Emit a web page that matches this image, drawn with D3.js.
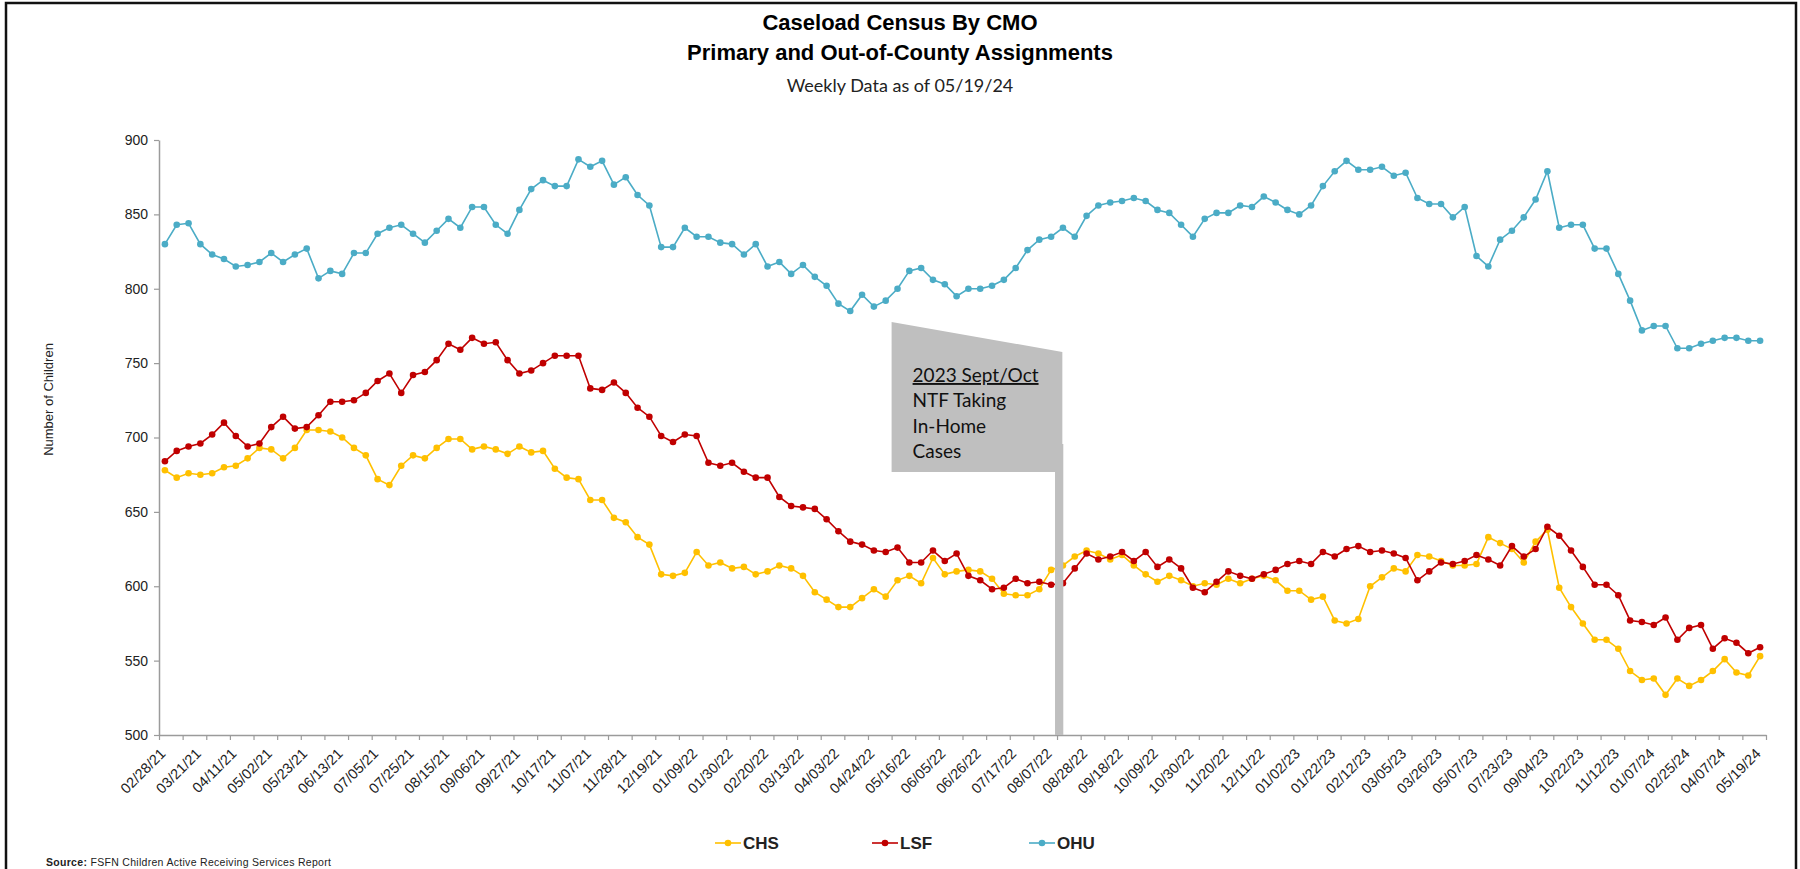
<!DOCTYPE html>
<html>
<head>
    <meta charset="utf-8">
    <script src="https://d3js.org/d3.v7.min.js"></script>
    <style>
        body { margin: 0; background: #fff; }
        svg { display: block; }
    </style>
</head>
<body>
    <svg id="chart" width="1800" height="869"></svg>

    <script>
        // x axis labels, one for every 3rd data point
        const tickLabels = [
            "02/28/21", "03/21/21", "04/11/21", "05/02/21", "05/23/21", "06/13/21", "07/05/21", "07/25/21",
            "08/15/21", "09/06/21", "09/27/21", "10/17/21", "11/07/21", "11/28/21", "12/19/21", "01/09/22",
            "01/30/22", "02/20/22", "03/13/22", "04/03/22", "04/24/22", "05/16/22", "06/05/22", "06/26/22",
            "07/17/22", "08/07/22", "08/28/22", "09/18/22", "10/09/22", "10/30/22", "11/20/22", "12/11/22",
            "01/02/23", "01/22/23", "02/12/23", "03/05/23", "03/26/23", "05/07/23", "07/23/23", "09/04/23",
            "10/22/23", "11/12/23", "01/07/24", "02/25/24", "04/07/24", "05/19/24"
        ];

        // weekly counts per CMO
        const chs = [
            678, 673, 676, 675, 676, 680, 681, 686, 693, 692, 686, 693, 705, 705, 704, 700, 693, 688,
            672, 668, 681, 688, 686, 693, 699, 699, 692, 694, 692, 689, 694, 690, 691, 679, 673, 672,
            658, 658, 646, 643, 633, 628, 608, 607, 609, 623, 614, 616, 612, 613, 608, 610, 614, 612,
            607, 596, 591, 586, 586, 592, 598, 593, 604, 607, 602, 619, 608, 610, 611, 610, 605, 595,
            594, 594, 598, 611, 614, 620, 624, 622, 618, 621, 614, 608, 603, 607, 604, 600, 602, 601,
            605, 602, 605, 607, 604, 597, 597, 591, 593, 577, 575, 578, 600, 606, 612, 610, 621, 620,
            617, 614, 614, 615, 633, 629, 625, 616, 630, 638, 599, 586, 575, 564, 564, 558, 543, 537,
            538, 527, 538, 533, 537, 543, 551, 542, 540, 553
        ];
        const lsf = [
            684, 691, 694, 696, 702, 710, 701, 694, 696, 707, 714, 706, 707, 715, 724, 724, 725, 730,
            738, 743, 730, 742, 744, 752, 763, 759, 767, 763, 764, 752, 743, 745, 750, 755, 755, 755,
            733, 732, 737, 730, 720, 714, 701, 697, 702, 701, 683, 681, 683, 677, 673, 673, 660, 654,
            653, 652, 645, 637, 630, 628, 624, 623, 626, 616, 616, 624, 617, 622, 607, 604, 598, 599,
            605, 602, 603, 601, 602, 612, 622, 618, 620, 623, 617, 623, 613, 618, 612, 599, 596, 603,
            610, 607, 605, 608, 611, 615, 617, 615, 623, 620, 625, 627, 623, 624, 622, 619, 604, 610,
            616, 615, 617, 621, 618, 614, 627, 620, 625, 640, 634, 624, 613, 601, 601, 594, 577, 576,
            574, 579, 564, 572, 574, 558, 565, 562, 555, 559
        ];
        const ohu = [
            830, 843, 844, 830, 823, 820, 815, 816, 818, 824, 818, 823, 827, 807, 812, 810, 824, 824,
            837, 841, 843, 837, 831, 839, 847, 841, 855, 855, 843, 837, 853, 867, 873, 869, 869, 887,
            882, 886, 870, 875, 863, 856, 828, 828, 841, 835, 835, 831, 830, 823, 830, 815, 818, 810,
            816, 808, 802, 790, 785, 796, 788, 792, 800, 812, 814, 806, 803, 795, 800, 800, 802, 806,
            814, 826, 833, 835, 841, 835, 849, 856, 858, 859, 861, 859, 853, 851, 843, 835, 847, 851,
            851, 856, 855, 862, 858, 853, 850, 856, 869, 879, 886, 880, 880, 882, 876, 878, 861, 857,
            857, 848, 855, 822, 815, 833, 839, 848, 860, 879, 841, 843, 843, 827, 827, 810, 792, 772,
            775, 775, 760, 760, 763, 765, 767, 767, 765, 765
        ];

        const seriesNames = ["CHS", "LSF", "OHU"];
        const seriesColors = ["#FFC000", "#C00000", "#4BACC6"];
        const seriesValues = [chs, lsf, ohu];

        const yTicks = [500, 550, 600, 650, 700, 750, 800, 850, 900];

        // The svg
        const svg = d3.select("svg"),
            width = +svg.attr("width"),
            height = +svg.attr("height");

        const plot = {left: 159, right: 1766, top: 140, bottom: 735};
        const axisColor = "#9b9b9b";
        const arial = "'Liberation Sans', Arial, sans-serif";
        const calibri = "Lato, 'Open Sans', sans-serif";

        const n = ohu.length;

        // scales: band for the points, linear for the band edges (tick marks)
        const x = d3.scaleBand()
            .domain(d3.range(n))
            .range([plot.left, plot.right])
            .padding(0);
        const xEdge = d3.scaleLinear()
            .domain([0, n])
            .range([plot.left, plot.right]);
        const y = d3.scaleLinear()
            .domain([500, 900])
            .range([plot.bottom, plot.top]);
        const cx = i => x(i) + x.bandwidth() / 2;

        // outer frame
        svg.append("rect")
            .attr("x", 6).attr("y", 3)
            .attr("width", width - 10).attr("height", height + 40)
            .attr("fill", "none")
            .attr("stroke", "#111")
            .attr("stroke-width", 2.5);

        // titles
        const titles = svg.append("g").attr("text-anchor", "middle");
        titles.append("text")
            .attr("x", 900).attr("y", 30)
            .attr("font-family", arial).attr("font-weight", "bold").attr("font-size", 22)
            .text("Caseload Census By CMO");
        titles.append("text")
            .attr("x", 900).attr("y", 60)
            .attr("font-family", arial).attr("font-weight", "bold").attr("font-size", 22)
            .text("Primary and Out-of-County Assignments");
        titles.append("text")
            .attr("x", 900).attr("y", 92)
            .attr("font-family", calibri).attr("font-size", 18)
            .attr("fill", "#222")
            .text("Weekly Data as of 05/19/24");

        // y axis
        const yAxis = svg.append("g")
            .attr("transform", `translate(${plot.left},0)`)
            .call(d3.axisLeft(y).tickValues(yTicks).tickSize(5).tickSizeOuter(0).tickPadding(6));
        yAxis.select(".domain").attr("stroke", axisColor).attr("stroke-width", 1.5);
        yAxis.selectAll(".tick line").attr("stroke", axisColor).attr("stroke-width", 1.2);
        yAxis.selectAll(".tick text")
            .attr("font-family", arial).attr("font-size", 14).attr("fill", "#222");

        svg.append("text")
            .attr("transform", `translate(53,${(plot.top + plot.bottom) / 2 - 38}) rotate(-90)`)
            .attr("text-anchor", "middle")
            .attr("font-family", "'Liberation Sans Narrow', " + arial)
            .attr("font-size", 13)
            .attr("fill", "#222")
            .text("Number of Children");

        // x axis line and tick marks every 2 weeks
        const xAxis = svg.append("g")
            .attr("transform", `translate(0,${plot.bottom})`)
            .call(d3.axisBottom(xEdge).tickValues(d3.range(0, n + 1, 2)).tickSize(5).tickSizeOuter(0).tickFormat(""));
        xAxis.select(".domain").attr("stroke", axisColor).attr("stroke-width", 1.5);
        xAxis.selectAll(".tick line").attr("stroke", axisColor).attr("stroke-width", 1.2);

        // x labels every 3 weeks, rotated
        const xLabels = svg.append("g")
            .attr("transform", `translate(0,${plot.bottom})`)
            .call(d3.axisBottom(x).tickValues(d3.range(0, n, 3)).tickSize(0).tickFormat(i => tickLabels[i / 3]));
        xLabels.select(".domain").remove();
        xLabels.selectAll(".tick text")
            .attr("font-family", arial).attr("font-size", 14.5).attr("fill", "#222")
            .attr("text-anchor", "end")
            .attr("transform", "translate(-2,16) rotate(-45)")
            .attr("dy", "0.35em")
            .attr("y", 0);

        // series lines and markers
        const line = d3.line()
            .x((d, i) => cx(i))
            .y(d => y(d));

        seriesValues.forEach((values, s) => {
            const g = svg.append("g");
            g.append("path")
                .datum(values)
                .attr("fill", "none")
                .attr("stroke", seriesColors[s])
                .attr("stroke-width", 1.6)
                .attr("d", line);
            g.selectAll("circle")
                .data(values)
                .join("circle")
                .attr("cx", (d, i) => cx(i))
                .attr("cy", d => y(d))
                .attr("r", 3.3)
                .attr("fill", seriesColors[s]);
        });

        // annotation callout (grey box with a pointer bar down to the axis)
        const box = {left: xEdge(62), right: xEdge(76.45), topL: 322, topR: 352, bottom: 472,
            barL: xEdge(75.83), barR: xEdge(76.53)};
        svg.append("path")
            .attr("fill", "#bfbfbf")
            .attr("d", `M${box.left},${box.topL} L${box.right},${box.topR} L${box.right},444 L${box.barR},444
                L${box.barR},${y(500)} L${box.barL},${y(500)} L${box.barL},${box.bottom} L${box.left},${box.bottom} Z`);

        const note = svg.append("text")
            .attr("font-family", calibri).attr("font-size", 19).attr("fill", "#111");
        ["2023 Sept/Oct", "NTF Taking", "In-Home", "Cases"].forEach((t, k) => {
            note.append("tspan")
                .attr("x", box.left + 21)
                .attr("y", 382 + k * 25.3)
                .attr("text-decoration", k === 0 ? "underline" : null)
                .text(t);
        });

        // legend
        const legend = svg.append("g")
            .selectAll("g")
            .data(seriesNames)
            .join("g")
            .attr("transform", (d, i) => `translate(${728 + i * 157},843)`);
        legend.append("line")
            .attr("x1", -13).attr("x2", 13)
            .attr("stroke", (d, i) => seriesColors[i])
            .attr("stroke-width", 1.6);
        legend.append("circle")
            .attr("r", 3.3)
            .attr("fill", (d, i) => seriesColors[i]);
        legend.append("text")
            .attr("x", 15).attr("y", 6)
            .attr("font-family", arial).attr("font-weight", "bold").attr("font-size", 17)
            .attr("fill", "#222")
            .text(d => d);

        // source note
        const source = svg.append("text")
            .attr("x", 46).attr("y", 866)
            .attr("font-family", arial).attr("font-size", 10.5)
            .attr("letter-spacing", 0.3)
            .attr("fill", "#222");
        source.append("tspan").attr("font-weight", "bold").text("Source:");
        source.append("tspan").text("  FSFN Children Active Receiving Services Report");
    </script>
</body>
</html>
